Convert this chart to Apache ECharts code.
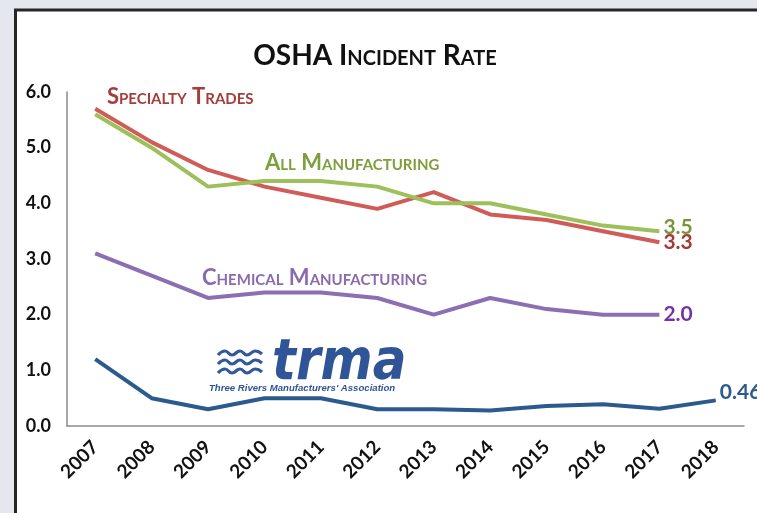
<!DOCTYPE html>
<html>
<head>
<meta charset="utf-8">
<script src="https://cdn.jsdelivr.net/npm/echarts@6/dist/echarts.min.js"></script>
<style>
  html, body { margin: 0; padding: 0; background: #e4e8ee; }
  #chart { width: 757px; height: 513px; }
</style>
</head>
<body>
<div id="chart"></div>
<script>
const years = ['2007', '2008', '2009', '2010', '2011', '2012', '2013', '2014', '2015', '2016', '2017', '2018']
const specialtyTrades = [5.7, 5.1, 4.6, 4.3, 4.1, 3.9, 4.2, 3.8, 3.7, 3.5, 3.3, null]
const allManufacturing = [5.6, 5.0, 4.3, 4.4, 4.4, 4.3, 4.0, 4.0, 3.8, 3.6, 3.5, null]
const chemicalManufacturing = [3.1, 2.7, 2.3, 2.4, 2.4, 2.3, 2.0, 2.3, 2.1, 2.0, 2.0, null]
const trmaMembers = [1.2, 0.5, 0.3, 0.5, 0.5, 0.3, 0.3, 0.28, 0.36, 0.39, 0.31, 0.46]

const FONT = 'Lato, "Open Sans", sans-serif'

const chart = echarts.init(document.getElementById('chart'))

// value label only on the last real point of each line
const endLabel = (data, color, offset) => {
    let last = data.length - 1
    while (data[last] == null) last--
    return {
        show: true,
        position: 'right',
        distance: 4,
        offset: offset,
        color: color,
        fontFamily: FONT,
        fontWeight: 'bold',
        fontSize: 21,
        formatter: (p) => {
            if (p.dataIndex !== last) return ''
            return p.value < 1 ? p.value.toFixed(2) : p.value.toFixed(1)
        },
    }
}

const lineSeries = (name, data, color, label) => ({
    name: name,
    type: 'line',
    data: data,
    symbol: 'circle',
    symbolSize: 0,
    showAllSymbol: true,
    lineStyle: { color: color, width: 4 },
    itemStyle: { color: color },
    label: label,
    animation: false,
})

const seriesName = (text, x, y, color) => ({
    type: 'text',
    x: x,
    y: y,
    z: 1,
    style: {
        text: text,
        fill: color,
        font: 'small-caps bold 22px ' + FONT,
        textVerticalAlign: 'middle',
    },
})

const wave = (y) => ({
    type: 'polyline',
    z: 1,
    shape: {
        points: [[218, y + 2], [225, y - 2], [232, y + 2], [240, y - 2], [247, y + 2], [255, y - 2], [262, y + 1]],
        smooth: 0.5,
    },
    style: { stroke: '#34599b', lineWidth: 3.2, fill: null },
})

chart.setOption({
    backgroundColor: '#e4e8ee',
    animation: false,
    grid: { left: 67, right: 13, top: 92, bottom: 87 },
    xAxis: {
        type: 'category',
        data: years,
        boundaryGap: true,
        axisLine: { lineStyle: { color: '#8a8a8a', width: 1.5 } },
        axisTick: { show: false },
        axisLabel: {
            rotate: 45,
            margin: 18,
            color: '#111',
            fontFamily: FONT,
            fontWeight: 'bold',
            fontSize: 19,
        },
    },
    yAxis: {
        type: 'value',
        min: 0,
        max: 6,
        interval: 1,
        axisLine: { show: true, lineStyle: { color: '#8a8a8a', width: 1.5 } },
        axisTick: { show: false },
        splitLine: { show: false },
        axisLabel: {
            margin: 16,
            color: '#111',
            fontFamily: FONT,
            fontWeight: 'bold',
            fontSize: 18,
            formatter: (v) => v.toFixed(1),
        },
    },
    graphic: [
        {
            type: 'rect',
            z: -1,
            shape: { x: 15.5, y: 10, width: 800, height: 600 },
            style: { fill: '#ffffff', stroke: '#262626', lineWidth: 3 },
        },
        {
            type: 'text',
            x: 375,
            y: 56,
            style: {
                text: 'OSHA Incident Rate',
                fill: '#111',
                font: 'small-caps bold 28px ' + FONT,
                textAlign: 'center',
                textVerticalAlign: 'middle',
            },
        },
        seriesName('Specialty Trades', 107, 97, '#a43e3c'),
        seriesName('All Manufacturing', 265, 163, '#7f9e3d'),
        seriesName('Chemical Manufacturing', 202, 278, '#8a6baf'),
        // TRMA logo
        wave(353),
        wave(362),
        wave(371),
        {
            type: 'text',
            x: 272,
            y: 393,
            z: 1,
            scaleY: 1.15,
            style: {
                text: 'trma',
                fill: '#2f5597',
                font: 'italic 900 50px "DejaVu Sans"',
                textVerticalAlign: 'bottom',
            },
        },
        {
            type: 'text',
            x: 209,
            y: 388,
            z: 1,
            style: {
                text: "Three Rivers Manufacturers' Association",
                fill: '#2f5597',
                font: 'italic bold 9.6px "Liberation Sans"',
                textVerticalAlign: 'middle',
            },
        },
    ],
    series: [
        lineSeries('Specialty Trades', specialtyTrades, '#cf5c59', endLabel(specialtyTrades, '#a33b38', [0, 0])),
        lineSeries('All Manufacturing', allManufacturing, '#9dc05a', endLabel(allManufacturing, '#78953b', [0, -4])),
        lineSeries('Chemical Manufacturing', chemicalManufacturing, '#8c6fb2', endLabel(chemicalManufacturing, '#7433a3', [0, 0])),
        lineSeries('TRMA', trmaMembers, '#2b5a8e', endLabel(trmaMembers, '#2b5a8e', [0, -8])),
    ],
})
</script>
</body>
</html>
